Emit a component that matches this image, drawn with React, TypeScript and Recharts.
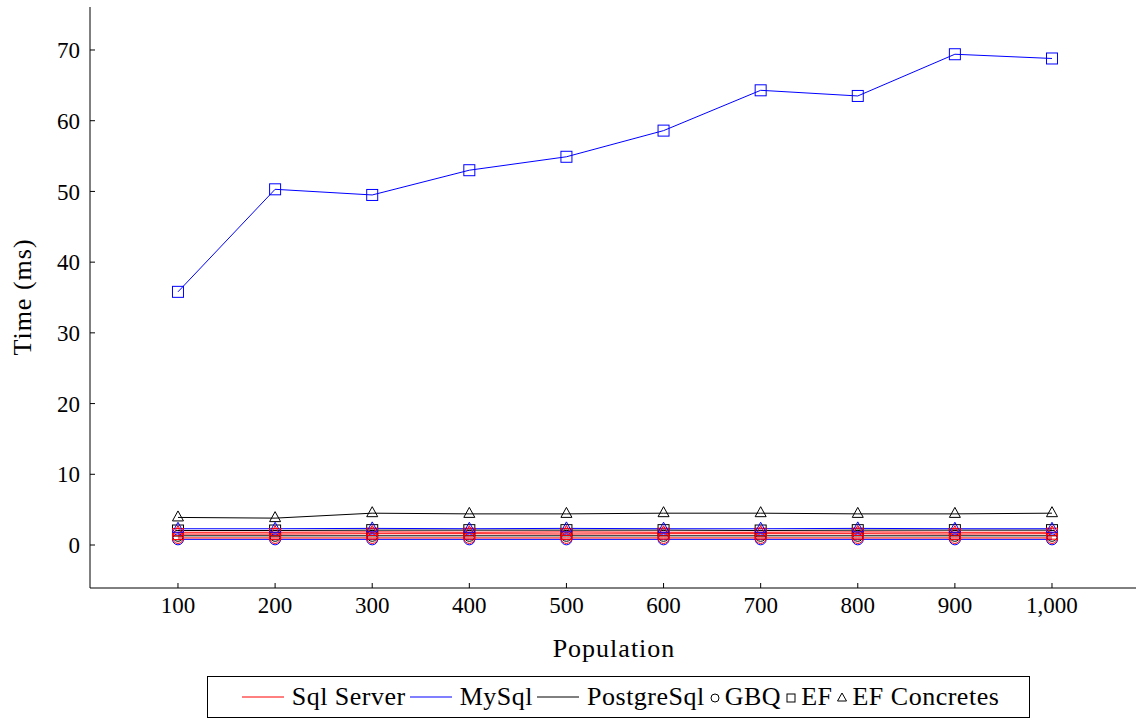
import { Label, Line, LineChart, XAxis, YAxis } from "recharts";

const populations = [100, 200, 300, 400, 500, 600, 700, 800, 900, 1000];
const yTicks = [0, 10, 20, 30, 40, 50, 60, 70];

const sqlGbq = [1.0, 1.0, 1.0, 1.0, 1.0, 1.0, 1.0, 1.0, 1.0, 1.0];
const sqlEf = [1.55, 1.55, 1.6, 1.6, 1.55, 1.6, 1.6, 1.6, 1.55, 1.6];
const sqlEfc = [1.8, 1.8, 1.85, 1.8, 1.85, 1.8, 1.8, 1.85, 1.8, 1.8];
const myGbq = [0.8, 0.8, 0.8, 0.8, 0.8, 0.8, 0.8, 0.8, 0.8, 0.8];
const myEf = [35.8, 50.3, 49.5, 53.0, 54.9, 58.6, 64.3, 63.5, 69.4, 68.8];
const myEfc = [2.3, 2.3, 2.35, 2.3, 2.35, 2.3, 2.3, 2.35, 2.3, 2.3];
const pgGbq = [1.3, 1.3, 1.3, 1.3, 1.3, 1.3, 1.3, 1.3, 1.3, 1.3];
const pgEf = [2.05, 2.05, 2.1, 2.1, 2.1, 2.1, 2.05, 2.1, 2.1, 2.1];
const pgEfc = [3.9, 3.8, 4.5, 4.4, 4.4, 4.5, 4.5, 4.4, 4.4, 4.5];

const data = populations.map((population, i) => ({
  population,
  sqlGbq: sqlGbq[i],
  sqlEf: sqlEf[i],
  sqlEfc: sqlEfc[i],
  myGbq: myGbq[i],
  myEf: myEf[i],
  myEfc: myEfc[i],
  pgGbq: pgGbq[i],
  pgEf: pgEf[i],
  pgEfc: pgEfc[i],
}));

const font = "Liberation Serif, DejaVu Serif, serif";
const RED = "#ff0000";
const BLUE = "#0000ff";
const BLACK = "#000000";

type Shape = "circle" | "square" | "triangle";

function MarkShape({ shape, x, y, color }: { shape: Shape; x: number; y: number; color: string }) {
  if (shape === "circle") return <circle cx={x} cy={y} r={5.5} fill="none" stroke={color} strokeWidth={1} />;
  if (shape === "square") return <rect x={x - 5.5} y={y - 5.5} width={11} height={11} fill="none" stroke={color} strokeWidth={1} />;
  return <polygon points={`${x},${y - 6.5} ${x + 5.5},${y + 3.5} ${x - 5.5},${y + 3.5}`} fill="none" stroke={color} strokeWidth={1} />;
}

const mark = (shape: Shape, color: string) => (p: any) => (
  <g key={`${shape}-${color}-${p.index}`}>
    <MarkShape shape={shape} x={p.cx} y={p.cy} color={color} />
  </g>
);

const series: Array<{ key: string; color: string; shape: Shape }> = [
  { key: "pgGbq", color: BLACK, shape: "circle" },
  { key: "myGbq", color: BLUE, shape: "circle" },
  { key: "sqlGbq", color: RED, shape: "circle" },
  { key: "pgEf", color: BLACK, shape: "square" },
  { key: "myEf", color: BLUE, shape: "square" },
  { key: "sqlEf", color: RED, shape: "square" },
  { key: "pgEfc", color: BLACK, shape: "triangle" },
  { key: "sqlEfc", color: RED, shape: "triangle" },
  { key: "myEfc", color: BLUE, shape: "triangle" },
];

const tickStyle = { fontFamily: font, fontSize: 23, fill: "#000" };

function LegendLine({ color }: { color: string }) {
  return (
    <svg width={50} height={20} style={{ marginRight: 4 }}>
      <line x1={4} y1={10} x2={46} y2={10} stroke={color} strokeWidth={1} />
    </svg>
  );
}

function LegendMark({ shape }: { shape: Shape }) {
  return (
    <svg width={14} height={20} style={{ marginLeft: 3, marginRight: 3 }}>
      {shape === "circle" && <circle cx={7} cy={11} r={4} fill="none" stroke="#000" />}
      {shape === "square" && <rect x={3} y={7} width={8} height={8} fill="none" stroke="#000" />}
      {shape === "triangle" && <polygon points="7,6 11.5,14 2.5,14" fill="none" stroke="#000" />}
    </svg>
  );
}

export default function App() {
  return (
    <div style={{ position: "absolute", left: 0, top: 0, width: 1137, height: 720, background: "#fff", fontFamily: font }}>
      <LineChart width={1137} height={720} data={data} margin={{ top: 7, right: 1, left: 0, bottom: 0 }} style={{ fontFamily: font }}>
        <XAxis
          dataKey="population"
          type="number"
          domain={[9.4, 1086.5]}
          ticks={populations}
          tickFormatter={(v: number) => v.toLocaleString("en-US")}
          height={132}
          tickSize={-5}
          tickMargin={14}
          tick={tickStyle}
          axisLine={{ stroke: "#000" }}
          tickLine={{ stroke: "#000" }}
          allowDataOverflow
        >
          <Label
            content={() => (
              <text x={614} y={648} textAnchor="middle" dominantBaseline="central" fontFamily={font} fontSize={26} letterSpacing={1}>
                Population
              </text>
            )}
          />
        </XAxis>
        <XAxis
          xAxisId="top"
          orientation="top"
          dataKey="population"
          type="number"
          domain={[9.4, 1086.5]}
          ticks={populations}
          height={0}
          tickSize={-5}
          tick={false}
          axisLine={{ stroke: "#000" }}
          tickLine={{ stroke: "#000" }}
          allowDataOverflow
        />
        <YAxis
          type="number"
          domain={[-6.08, 76.08]}
          ticks={yTicks}
          width={90}
          tickSize={-5}
          tickMargin={15}
          tick={tickStyle}
          axisLine={{ stroke: "#000" }}
          tickLine={{ stroke: "#000" }}
          allowDataOverflow
        >
          <Label
            content={() => (
              <text x={22} y={297} textAnchor="middle" dominantBaseline="central" transform="rotate(-90 22 297)" fontFamily={font} fontSize={26} letterSpacing={1}>
                Time (ms)
              </text>
            )}
          />
        </YAxis>
        <YAxis
          yAxisId="right"
          orientation="right"
          type="number"
          domain={[-6.08, 76.08]}
          ticks={yTicks}
          width={0}
          tickSize={-5}
          tick={false}
          axisLine={{ stroke: "#000" }}
          tickLine={{ stroke: "#000" }}
          allowDataOverflow
        />
        {series.map((s) => (
          <Line
            key={s.key}
            type="linear"
            dataKey={s.key}
            stroke={s.color}
            strokeWidth={1}
            dot={mark(s.shape, s.color)}
            activeDot={false}
            isAnimationActive={false}
          />
        ))}
      </LineChart>
      <div
        style={{
          position: "absolute",
          left: 207,
          top: 676,
          width: 821,
          height: 40,
          border: "1px solid #000",
          display: "flex",
          alignItems: "center",
          justifyContent: "center",
          fontFamily: font,
          fontSize: 26,
          letterSpacing: 0.5,
          whiteSpace: "nowrap",
        }}
      >
        <LegendLine color={RED} />
        <span>Sql Server</span>
        <LegendLine color={BLUE} />
        <span>MySql</span>
        <LegendLine color={BLACK} />
        <span>PostgreSql</span>
        <LegendMark shape="circle" />
        <span>GBQ</span>
        <LegendMark shape="square" />
        <span>EF</span>
        <LegendMark shape="triangle" />
        <span>EF Concretes</span>
      </div>
    </div>
  );
}
